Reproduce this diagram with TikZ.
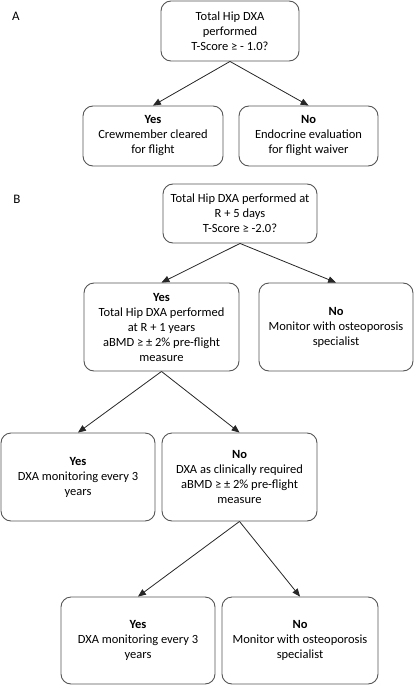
\documentclass[tikz,border=0pt]{standalone}
\usepackage{fontspec}
\setmainfont{Carlito}
\usepackage{tikz}
\usetikzlibrary{arrows, positioning}
\definecolor{boxgray}{HTML}{555555}

\begin{document}
\begin{tikzpicture}[
    x=1pt, y=1pt,
    box/.style={rectangle, draw=boxgray, line width=0.9pt, rounded corners=10pt, minimum width=154pt, minimum height=88pt, align=center, font=\fontsize{12.5}{15}\selectfont, inner sep=2pt},
    smallbox/.style={box, minimum width=139pt, minimum height=60pt},
    panel/.style={font=\fontsize{13}{15}\selectfont},
    arrow/.style={->, >=triangle 45, line width=0.8pt, draw=black!85}
]
\useasboundingbox (0,0) rectangle (414,-685);

% Panel A
\node[panel] (labA) at (16,-16) {A};
\node[smallbox, minimum width=138pt] (hipA) at (230,-31) {Total Hip DXA\\performed\\T-Score ≥ - 1.0?};
\node[smallbox, minimum width=140pt] (yesA) at (153,-136) {\textbf{Yes}\\Crewmember cleared\\for flight};
\node[smallbox] (noA) at (308.5,-136) {\textbf{No}\\Endocrine evaluation\\for flight waiver};

\draw[arrow] (hipA.south) -- (yesA.north);
\draw[arrow] (hipA.south) -- (noA.north);

% Panel B
\node[panel] (labB) at (17,-199) {B};
\node[box, minimum height=59pt] (hipB) at (240,-213.5) {Total Hip DXA performed at\\R + 5 days\\T-Score ≥ -2.0?};
\node[box, minimum width=155pt] (yesB) at (161.5,-327) {\textbf{Yes}\\Total Hip DXA performed\\at R + 1 years\\aBMD ≥ ± 2\% pre-flight\\measure};
\node[box] (noB) at (336,-327) {\textbf{No}\\Monitor with osteoporosis\\specialist};

\draw[arrow] (hipB.south) -- (yesB.north);
\draw[arrow] (hipB.south) -- (noB.north);

\node[box] (yesC) at (78,-477) {\textbf{Yes}\\DXA monitoring every 3\\years};
\node[box, minimum width=155pt] (noC) at (239.5,-477) {\textbf{No}\\DXA as clinically required\\aBMD ≥ ± 2\% pre-flight\\measure};

\draw[arrow] (yesB.south) -- (yesC.north);
\draw[arrow] (yesB.south) -- (noC.north);

\node[box, minimum height=87pt] (yesD) at (138,-640.5) {\textbf{Yes}\\DXA monitoring every 3\\years};
\node[box, minimum width=156pt, minimum height=87pt] (noD) at (300,-640.5) {\textbf{No}\\Monitor with osteoporosis\\specialist};

\draw[arrow] (noC.south) -- (yesD.north);
\draw[arrow] (noC.south) -- (noD.north);

\end{tikzpicture}
\end{document}
